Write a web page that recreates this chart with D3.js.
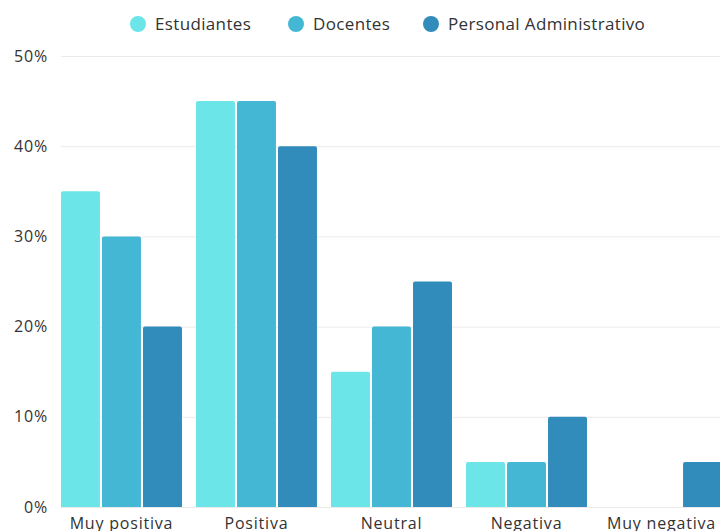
<!DOCTYPE html>
<html lang="es">
<head>
<meta charset="UTF-8">
<title>Percepción por grupo</title>
<style>
  body { margin: 0; background: #fff; }
  svg { display: block; font-family: "Open Sans", sans-serif; }
  .grid line { stroke: #ebebeb; stroke-width: 1; }
  .tick-label { fill: #333; font-size: 16px; letter-spacing: 0.8px; }
  .legend text { fill: #333; font-size: 17px; letter-spacing: 0.35px; }
</style>
</head>
<body>
<svg width="720" height="531"></svg>
<script src="https://d3js.org/d3.v7.min.js"></script>
<script>
const categories = ["Muy positiva", "Positiva", "Neutral", "Negativa", "Muy negativa"];
const seriesNames = ["Estudiantes", "Docentes", "Personal Administrativo"];
const estudiantes = [35, 45, 15, 5, 0];
const docentes = [30, 45, 20, 5, 0];
const personal = [20, 40, 25, 10, 5];
const yTicks = [0, 10, 20, 30, 40, 50];
const colors = ["#6ce5e8", "#44b7d4", "#318bbb"];

const values = [estudiantes, docentes, personal];
const svg = d3.select("svg");

const x = d3.scaleBand().domain(categories).range([61, 722]).paddingInner(0.104).paddingOuter(0);
const xs = d3.scaleBand().domain(seriesNames).range([0, x.bandwidth()]).paddingInner(0.05);
const y = d3.scaleLinear().domain([0, 50]).range([507, 56]);

// gridlines
svg.append("g").attr("class", "grid")
  .selectAll("line").data(yTicks).enter().append("line")
  .attr("x1", 61).attr("x2", 720)
  .attr("y1", d => y(d) + 0.5).attr("y2", d => y(d) + 0.5);

svg.append("g").selectAll("text").data(yTicks).enter().append("text")
  .attr("class", "tick-label")
  .attr("x", 48).attr("y", d => y(d))
  .attr("dy", "0.35em").attr("text-anchor", "end")
  .text(d => d + "%");

// bars with slightly rounded tops
function barPath(x0, w, yTop, yBase, r) {
  if (yBase - yTop < 0.5) return "";
  r = Math.min(r, (yBase - yTop) / 2);
  return `M${x0},${yBase}V${yTop + r}Q${x0},${yTop} ${x0 + r},${yTop}H${x0 + w - r}Q${x0 + w},${yTop} ${x0 + w},${yTop + r}V${yBase}Z`;
}

const groups = svg.append("g").selectAll("g").data(categories).enter().append("g")
  .attr("transform", d => `translate(${x(d)},0)`);

groups.selectAll("path").data((c, i) => seriesNames.map((s, j) => ({ s, j, v: values[j][i] })))
  .enter().append("path")
  .attr("fill", d => colors[d.j])
  .attr("d", d => barPath(xs(d.s), xs.bandwidth(), y(d.v), y(0), 2));

// category labels
svg.append("g").selectAll("text").data(categories).enter().append("text")
  .attr("class", "tick-label")
  .attr("x", d => x(d) + x.bandwidth() / 2).attr("y", 529)
  .attr("text-anchor", "middle")
  .text(d => d);

// legend
const legendX = [138, 296, 431];
const legend = svg.append("g").attr("class", "legend")
  .selectAll("g").data(seriesNames).enter().append("g")
  .attr("transform", (d, i) => `translate(${legendX[i]},24)`);
legend.append("circle").attr("r", 8).attr("fill", (d, i) => colors[i]);
legend.append("text").attr("x", 17).attr("dy", "0.35em").text(d => d);
</script>
</body>
</html>
